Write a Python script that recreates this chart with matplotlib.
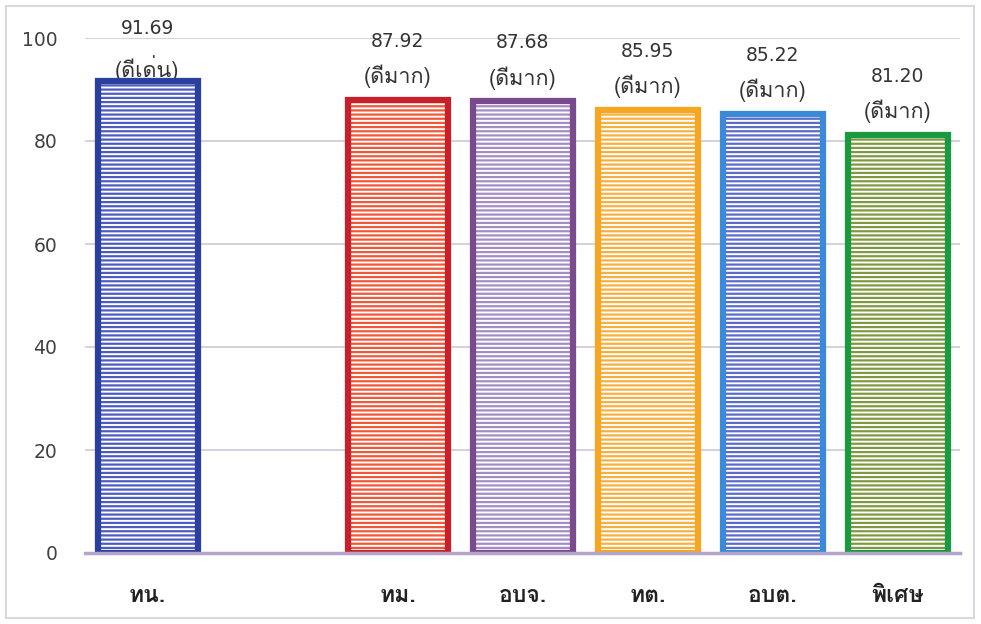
import matplotlib
matplotlib.use("Agg")
import matplotlib.pyplot as plt
from matplotlib.patches import Rectangle

# ---- data ----
categories = ["ทน.", "", "ทม.", "อบจ.", "ทต.", "อบต.", "พิเศษ"]
values = [91.69, None, 87.92, 87.68, 85.95, 85.22, 81.20]
ratings = ["(ดีเด่น)", "", "(ดีมาก)", "(ดีมาก)", "(ดีมาก)", "(ดีมาก)", "(ดีมาก)"]
yticks = [0, 20, 40, 60, 80, 100]

edge_colors = ["#2b3f9e", None, "#c8202a", "#7a4a8e", "#f5a623", "#3a8ad8", "#1a9a40"]
hatch_colors = ["#4d5cc0", None, "#f0583a", "#a48cc4", "#f6b040", "#5a6cc8", "#7d9a40"]

THAI = ["Loma", "Noto Sans Thai Looped", "DejaVu Sans"]
NUM = ["DejaVu Sans"]
plt.rcParams["font.family"] = THAI
plt.rcParams["hatch.linewidth"] = 1.6

fig = plt.figure(figsize=(9.81, 6.24), dpi=100)
ax = fig.add_axes([85/981, 71/624, 875/981, (553-38)/624])

x = list(range(len(categories)))
for i, v in enumerate(values):
    if v is None:
        continue
    ax.bar(i, v, width=0.8, facecolor="white", edgecolor=hatch_colors[i],
           hatch="----", linewidth=0, zorder=3)
    ax.bar(i, v, width=0.8, fill=False, edgecolor=edge_colors[i],
           linewidth=4.5, zorder=4)
    ax.text(i, min(v + 11.4, 101.8), f"{v:.2f}", ha="center", va="center",
            fontsize=13.5, color="#333333", family=NUM, clip_on=False)
    ax.text(i, min(v + 4.6, 94.0), ratings[i], ha="center", va="center",
            fontsize=15.5, color="#333333", family=THAI, clip_on=False)

ax.set_xlim(-0.5, 6.5)
ax.set_ylim(0, 100)
ax.set_yticks(yticks)
ax.set_yticklabels([str(t) for t in yticks], family=NUM)
ax.set_xticks(x)
ax.set_xticklabels(categories, fontsize=16.5, fontweight="bold", color="#222222")
ax.tick_params(axis="y", labelsize=13.5, labelcolor="#404040", length=0, pad=20)
ax.tick_params(axis="x", length=0, pad=24)
ax.grid(axis="y", color="#cfc8d8", linewidth=1.2, zorder=0)
for s in ["top", "right", "left"]:
    ax.spines[s].set_visible(False)
ax.spines["bottom"].set_color("#b4a4c8")
ax.spines["bottom"].set_linewidth(2.5)
ax.spines["bottom"].set_zorder(5)

fig.patches.append(Rectangle((6/981, 6/624), 968/981, 612/624, transform=fig.transFigure,
                             fill=False, edgecolor="#d8d8e2", linewidth=1.5))
fig.savefig("out.png", dpi=100)
